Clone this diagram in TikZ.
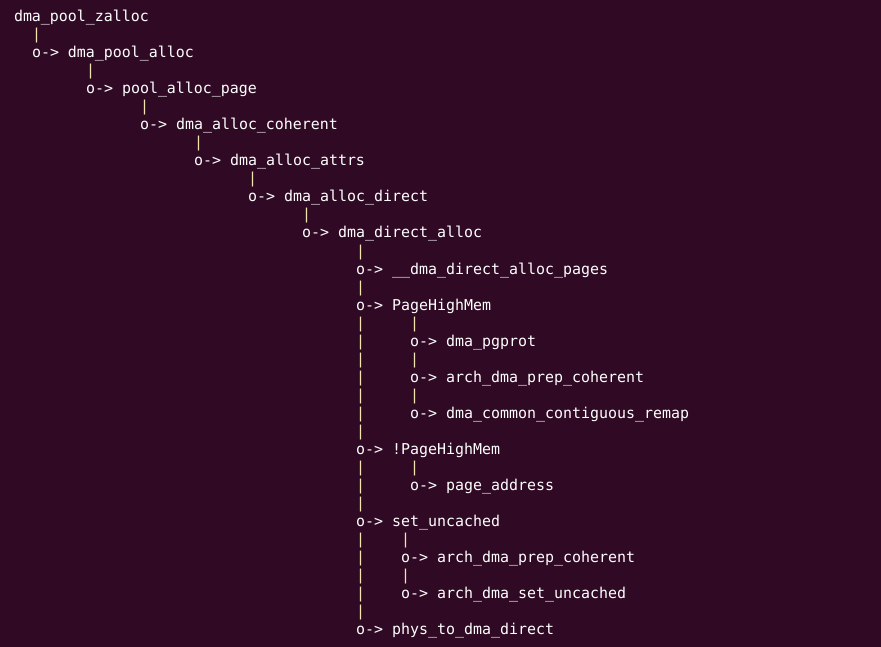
\documentclass[tikz,border=0pt]{standalone}
\usepackage{fontspec}
\newfontfamily\termfont{DejaVu Sans Mono}
\definecolor{termbg}{HTML}{300A24}
\definecolor{termfg}{HTML}{FFFFFF}
\definecolor{termbar}{HTML}{F2E6B0}
\tikzset{
  txt/.style={anchor=base west, inner sep=0pt, outer sep=0pt, text=termfg,
    font=\termfont\fontsize{14.95pt}{18pt}\selectfont},
  bar/.style={txt, text=termbar}
}
\newcommand\termtext[4]{\node[txt] (#1) at ({14pt+9pt*#2},{-22pt-18pt*#3}) {#4};}
\newcommand\termbar[3]{\node[bar] (#1) at ({14pt+9pt*#2},{-22pt-18pt*#3}) {|};}
\begin{document}
\begin{tikzpicture}
\fill[termbg] (0,0) rectangle (881pt,-647pt);
\useasboundingbox (0,0) rectangle (881pt,-647pt);
\termtext{t0}{0}{0}{dma\_pool\_zalloc}
\termbar{b1}{2}{1}
\termtext{t2}{2}{2}{o-> dma\_pool\_alloc}
\termbar{b3}{8}{3}
\termtext{t4}{8}{4}{o-> pool\_alloc\_page}
\termbar{b5}{14}{5}
\termtext{t6}{14}{6}{o-> dma\_alloc\_coherent}
\termbar{b7}{20}{7}
\termtext{t8}{20}{8}{o-> dma\_alloc\_attrs}
\termbar{b9}{26}{9}
\termtext{t10}{26}{10}{o-> dma\_alloc\_direct}
\termbar{b11}{32}{11}
\termtext{t12}{32}{12}{o-> dma\_direct\_alloc}
\termbar{b13}{38}{13}
\termtext{t14}{38}{14}{o-> \_\_dma\_direct\_alloc\_pages}
\termbar{b15}{38}{15}
\termtext{t16}{38}{16}{o-> PageHighMem}
\termbar{b17}{38}{17}\termbar{c17}{44}{17}
\termbar{b18}{38}{18}\termtext{t18}{44}{18}{o-> dma\_pgprot}
\termbar{b19}{38}{19}\termbar{c19}{44}{19}
\termbar{b20}{38}{20}\termtext{t20}{44}{20}{o-> arch\_dma\_prep\_coherent}
\termbar{b21}{38}{21}\termbar{c21}{44}{21}
\termbar{b22}{38}{22}\termtext{t22}{44}{22}{o-> dma\_common\_contiguous\_remap}
\termbar{b23}{38}{23}
\termtext{t24}{38}{24}{o-> !PageHighMem}
\termbar{b25}{38}{25}\termbar{c25}{44}{25}
\termbar{b26}{38}{26}\termtext{t26}{44}{26}{o-> page\_address}
\termbar{b27}{38}{27}
\termtext{t28}{38}{28}{o-> set\_uncached}
\termbar{b29}{38}{29}\termbar{c29}{43}{29}
\termbar{b30}{38}{30}\termtext{t30}{43}{30}{o-> arch\_dma\_prep\_coherent}
\termbar{b31}{38}{31}\termbar{c31}{43}{31}
\termbar{b32}{38}{32}\termtext{t32}{43}{32}{o-> arch\_dma\_set\_uncached}
\termbar{b33}{38}{33}
\termtext{t34}{38}{34}{o-> phys\_to\_dma\_direct}
\end{tikzpicture}
\end{document}
